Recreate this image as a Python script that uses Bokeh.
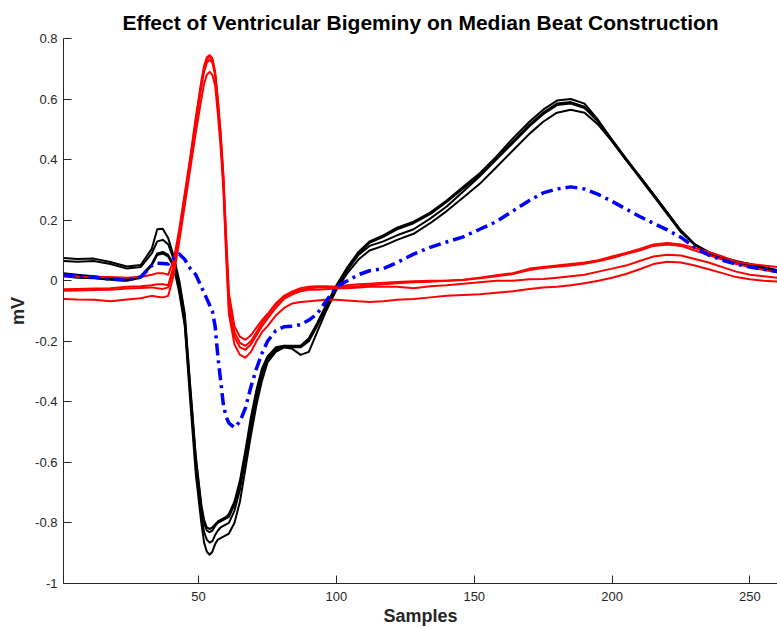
from bokeh.plotting import figure
from bokeh.models import FixedTicker, Range1d
from bokeh.embed import file_html
from bokeh.resources import INLINE

TITLE = "Effect of Ventricular Bigeminy on Median Beat Construction"
X_LABEL = "Samples"
Y_LABEL = "mV"
X_TICKS = [50, 100, 150, 200, 250]
Y_TICKS = [-1.0, -0.8, -0.6, -0.4, -0.2, 0.0, 0.2, 0.4, 0.6, 0.8]
Y_TICK_LABELS = ["-1", "-0.8", "-0.6", "-0.4", "-0.2", "0", "0.2", "0.4", "0.6", "0.8"]

samples = [1, 6, 12, 18, 24, 29, 33, 35, 37, 39, 41,
           43, 45, 47, 49, 51, 52, 53, 54, 55, 56, 57, 58, 59, 60, 61,
           63, 65, 67, 69, 71, 73, 75, 78, 81, 84,
           87, 90, 93, 96, 100, 104, 108, 112, 117, 122,
           128, 134, 140, 146, 152, 158, 164, 170, 175, 180,
           185, 190, 195, 200, 205, 210, 215, 220, 225, 230,
           235, 240, 245, 250, 255, 260]

# normal (sinus) beats - black
normal_1 = [0.075, 0.072, 0.073, 0.062, 0.047, 0.052, 0.105, 0.17, 0.172, 0.14, 0.08,
            0.0, -0.11, -0.35, -0.58, -0.74, -0.79, -0.815, -0.82, -0.815, -0.805, -0.795, -0.79, -0.785, -0.78, -0.77,
            -0.73, -0.66, -0.56, -0.45, -0.36, -0.29, -0.25, -0.22, -0.215, -0.215,
            -0.215, -0.19, -0.14, -0.085, -0.015, 0.045, 0.095, 0.13, 0.15, 0.175,
            0.195, 0.225, 0.265, 0.31, 0.355, 0.41, 0.47, 0.525, 0.565, 0.595,
            0.60, 0.585, 0.53, 0.465, 0.40, 0.345, 0.285, 0.225, 0.165, 0.12,
            0.095, 0.078, 0.065, 0.055, 0.045, 0.035]
normal_2 = [0.065, 0.063, 0.065, 0.055, 0.04, 0.045, 0.09, 0.13, 0.135, 0.12, 0.07,
            -0.01, -0.12, -0.36, -0.59, -0.75, -0.80, -0.825, -0.83, -0.825, -0.81, -0.80, -0.795, -0.79, -0.785, -0.78,
            -0.74, -0.67, -0.57, -0.47, -0.37, -0.30, -0.255, -0.225, -0.215, -0.218,
            -0.218, -0.195, -0.145, -0.09, -0.02, 0.04, 0.09, 0.125, 0.145, 0.17,
            0.19, 0.22, 0.26, 0.305, 0.35, 0.405, 0.46, 0.515, 0.555, 0.585,
            0.59, 0.575, 0.525, 0.46, 0.40, 0.345, 0.285, 0.225, 0.165, 0.12,
            0.093, 0.076, 0.063, 0.053, 0.043, 0.033]
normal_3 = [0.025, 0.02, 0.015, 0.008, 0.005, 0.015, 0.055, 0.09, 0.095, 0.085, 0.05,
            -0.03, -0.14, -0.38, -0.61, -0.77, -0.83, -0.855, -0.865, -0.86, -0.84, -0.825, -0.815, -0.81, -0.805, -0.80,
            -0.76, -0.69, -0.59, -0.49, -0.39, -0.31, -0.26, -0.23, -0.22, -0.22,
            -0.22, -0.2, -0.15, -0.095, -0.025, 0.035, 0.085, 0.115, 0.13, 0.15,
            0.17, 0.205, 0.245, 0.295, 0.345, 0.40, 0.455, 0.51, 0.55, 0.58,
            0.585, 0.57, 0.525, 0.465, 0.405, 0.345, 0.285, 0.225, 0.165, 0.12,
            0.092, 0.075, 0.062, 0.052, 0.042, 0.032]
normal_4 = [0.015, 0.01, 0.008, 0.003, 0.0, 0.01, 0.05, 0.085, 0.09, 0.08, 0.045,
            -0.04, -0.15, -0.40, -0.64, -0.80, -0.865, -0.895, -0.905, -0.895, -0.87, -0.855, -0.85, -0.845, -0.84, -0.835,
            -0.80, -0.73, -0.62, -0.51, -0.41, -0.33, -0.27, -0.235, -0.22, -0.225,
            -0.245, -0.235, -0.17, -0.105, -0.03, 0.025, 0.07, 0.10, 0.115, 0.135,
            0.155, 0.19, 0.23, 0.275, 0.32, 0.375, 0.43, 0.485, 0.525, 0.555,
            0.565, 0.555, 0.515, 0.46, 0.40, 0.34, 0.28, 0.22, 0.16, 0.118,
            0.09, 0.073, 0.06, 0.05, 0.04, 0.03]

# ectopic (PVC) beats - red
ectopic_1 = [0.015, 0.013, 0.012, 0.012, 0.01, 0.012, 0.02, 0.025, 0.025, 0.02, 0.07,
             0.17, 0.29, 0.41, 0.54, 0.66, 0.71, 0.738, 0.745, 0.735, 0.69, 0.60, 0.49, 0.35, 0.15, -0.04,
             -0.15, -0.185, -0.195, -0.18, -0.155, -0.13, -0.11, -0.075, -0.05, -0.035,
             -0.025, -0.02, -0.018, -0.018, -0.02, -0.015, -0.012, -0.01, -0.007, -0.004,
             -0.002, 0.0, 0.0, 0.003, 0.01, 0.018, 0.025, 0.04, 0.045, 0.05,
             0.055, 0.06, 0.068, 0.08, 0.092, 0.105, 0.12, 0.125, 0.12, 0.108,
             0.095, 0.08, 0.063, 0.055, 0.05, 0.045]
ectopic_2 = [-0.028, -0.027, -0.026, -0.025, -0.02, -0.018, -0.015, -0.012, -0.012, -0.015, 0.05,
             0.16, 0.28, 0.40, 0.53, 0.65, 0.70, 0.73, 0.74, 0.73, 0.685, 0.59, 0.48, 0.34, 0.13, -0.07,
             -0.17, -0.205, -0.215, -0.2, -0.17, -0.14, -0.115, -0.08, -0.055, -0.04,
             -0.03, -0.025, -0.022, -0.022, -0.022, -0.02, -0.018, -0.015, -0.012, -0.008,
             -0.005, -0.003, 0.0, 0.002, 0.008, 0.015, 0.022, 0.035, 0.042, 0.046,
             0.05, 0.056, 0.064, 0.075, 0.088, 0.1, 0.115, 0.12, 0.115, 0.1,
             0.085, 0.07, 0.055, 0.045, 0.035, 0.028]
ectopic_3 = [-0.033, -0.032, -0.031, -0.03, -0.026, -0.024, -0.022, -0.025, -0.027, -0.022, 0.04,
             0.15, 0.27, 0.39, 0.52, 0.64, 0.69, 0.72, 0.73, 0.72, 0.68, 0.58, 0.47, 0.32, 0.11, -0.09,
             -0.185, -0.22, -0.228, -0.21, -0.18, -0.15, -0.125, -0.09, -0.06, -0.045,
             -0.035, -0.03, -0.03, -0.028, -0.025, -0.025, -0.022, -0.02, -0.02, -0.02,
             -0.025, -0.018, -0.015, -0.01, -0.005, 0.0, 0.0, 0.005, 0.006, 0.01,
             0.015, 0.02, 0.03, 0.04, 0.05, 0.065, 0.08, 0.086, 0.083, 0.072,
             0.06, 0.045, 0.03, 0.02, 0.015, 0.01]
ectopic_4 = [-0.06, -0.062, -0.063, -0.068, -0.062, -0.058, -0.05, -0.053, -0.055, -0.05, 0.02,
             0.13, 0.25, 0.37, 0.49, 0.60, 0.65, 0.68, 0.69, 0.68, 0.645, 0.55, 0.44, 0.30, 0.08, -0.11,
             -0.21, -0.245, -0.254, -0.235, -0.2, -0.17, -0.15, -0.115, -0.09, -0.075,
             -0.07, -0.068, -0.065, -0.063, -0.063, -0.065, -0.068, -0.07, -0.068, -0.063,
             -0.06, -0.055, -0.05, -0.047, -0.045, -0.04, -0.035, -0.027, -0.022, -0.02,
             -0.015, -0.008, 0.0, 0.01, 0.022, 0.038, 0.055, 0.063, 0.06, 0.05,
             0.038, 0.025, 0.012, 0.005, 0.0, -0.003]

# median beat - blue dash-dot
median_beat = [0.02, 0.015, 0.012, 0.005, 0.002, 0.012, 0.05, 0.058, 0.057, 0.055, 0.075,
               0.088, 0.07, 0.04, 0.02, -0.02, -0.04, -0.06, -0.08, -0.1, -0.15, -0.25, -0.33, -0.41, -0.45, -0.47,
               -0.485, -0.465, -0.42, -0.35, -0.29, -0.24, -0.2, -0.165, -0.152, -0.15,
               -0.145, -0.13, -0.11, -0.07, -0.02, 0.0, 0.02, 0.033, 0.04, 0.06,
               0.088, 0.11, 0.128, 0.145, 0.17, 0.195, 0.23, 0.265, 0.29, 0.303,
               0.31, 0.303, 0.285, 0.262, 0.237, 0.212, 0.19, 0.168, 0.143, 0.11,
               0.085, 0.068, 0.055, 0.045, 0.038, 0.03]

normal_beats = [normal_1, normal_2, normal_3, normal_4]
ectopic_beats = [ectopic_1, ectopic_2, ectopic_3, ectopic_4]

FONT = "Liberation Sans"
TEXT_COLOR = "#262626"

p = figure(width=777, height=628, output_backend="svg", toolbar_location=None,
           x_range=Range1d(1, 260), y_range=Range1d(-1, 0.8),
           title=TITLE,
           min_border_left=63, min_border_right=0, min_border_top=38,
           min_border_bottom=44)
p.outline_line_color = None
p.grid.visible = False
p.background_fill_color = "white"
p.border_fill_color = "white"

p.title.align = "center"
p.title.text_font = FONT
p.title.text_font_size = "21px"
p.title.text_font_style = "bold"
p.title.text_color = "#000000"
p.title.standoff = 10

for ax in (p.xaxis[0], p.yaxis[0]):
    ax.axis_line_color = "#262626"
    ax.axis_line_width = 1
    ax.major_tick_line_color = "#262626"
    ax.major_tick_line_width = 1
    ax.major_tick_in = 8
    ax.major_tick_out = 0
    ax.minor_tick_line_color = None
    ax.major_label_text_font = FONT
    ax.major_label_text_font_size = "13px"
    ax.major_label_text_color = TEXT_COLOR
    ax.axis_label_text_font = FONT
    ax.axis_label_text_font_size = "18px"
    ax.axis_label_text_font_style = "bold"
    ax.axis_label_text_color = TEXT_COLOR

p.xaxis.ticker = FixedTicker(ticks=X_TICKS)
p.xaxis.axis_label = X_LABEL
p.xaxis.major_label_standoff = 8
p.xaxis.axis_label_standoff = 2

p.yaxis.ticker = FixedTicker(ticks=Y_TICKS)
p.yaxis.major_label_overrides = {t: s for t, s in zip(Y_TICKS, Y_TICK_LABELS)}
p.yaxis.axis_label = Y_LABEL
p.yaxis.major_label_standoff = 6
p.yaxis.axis_label_standoff = 4

for beat in normal_beats:
    p.line(samples, beat, line_color="#000000", line_width=2, line_join="round")
for beat in ectopic_beats:
    p.line(samples, beat, line_color="#ff0000", line_width=2, line_join="round")
p.line(samples, median_beat, line_color="#0000ff", line_width=3.5,
       line_dash="12 5 3 5", line_join="round")

open("out.html", "w").write(file_html(p, INLINE))
